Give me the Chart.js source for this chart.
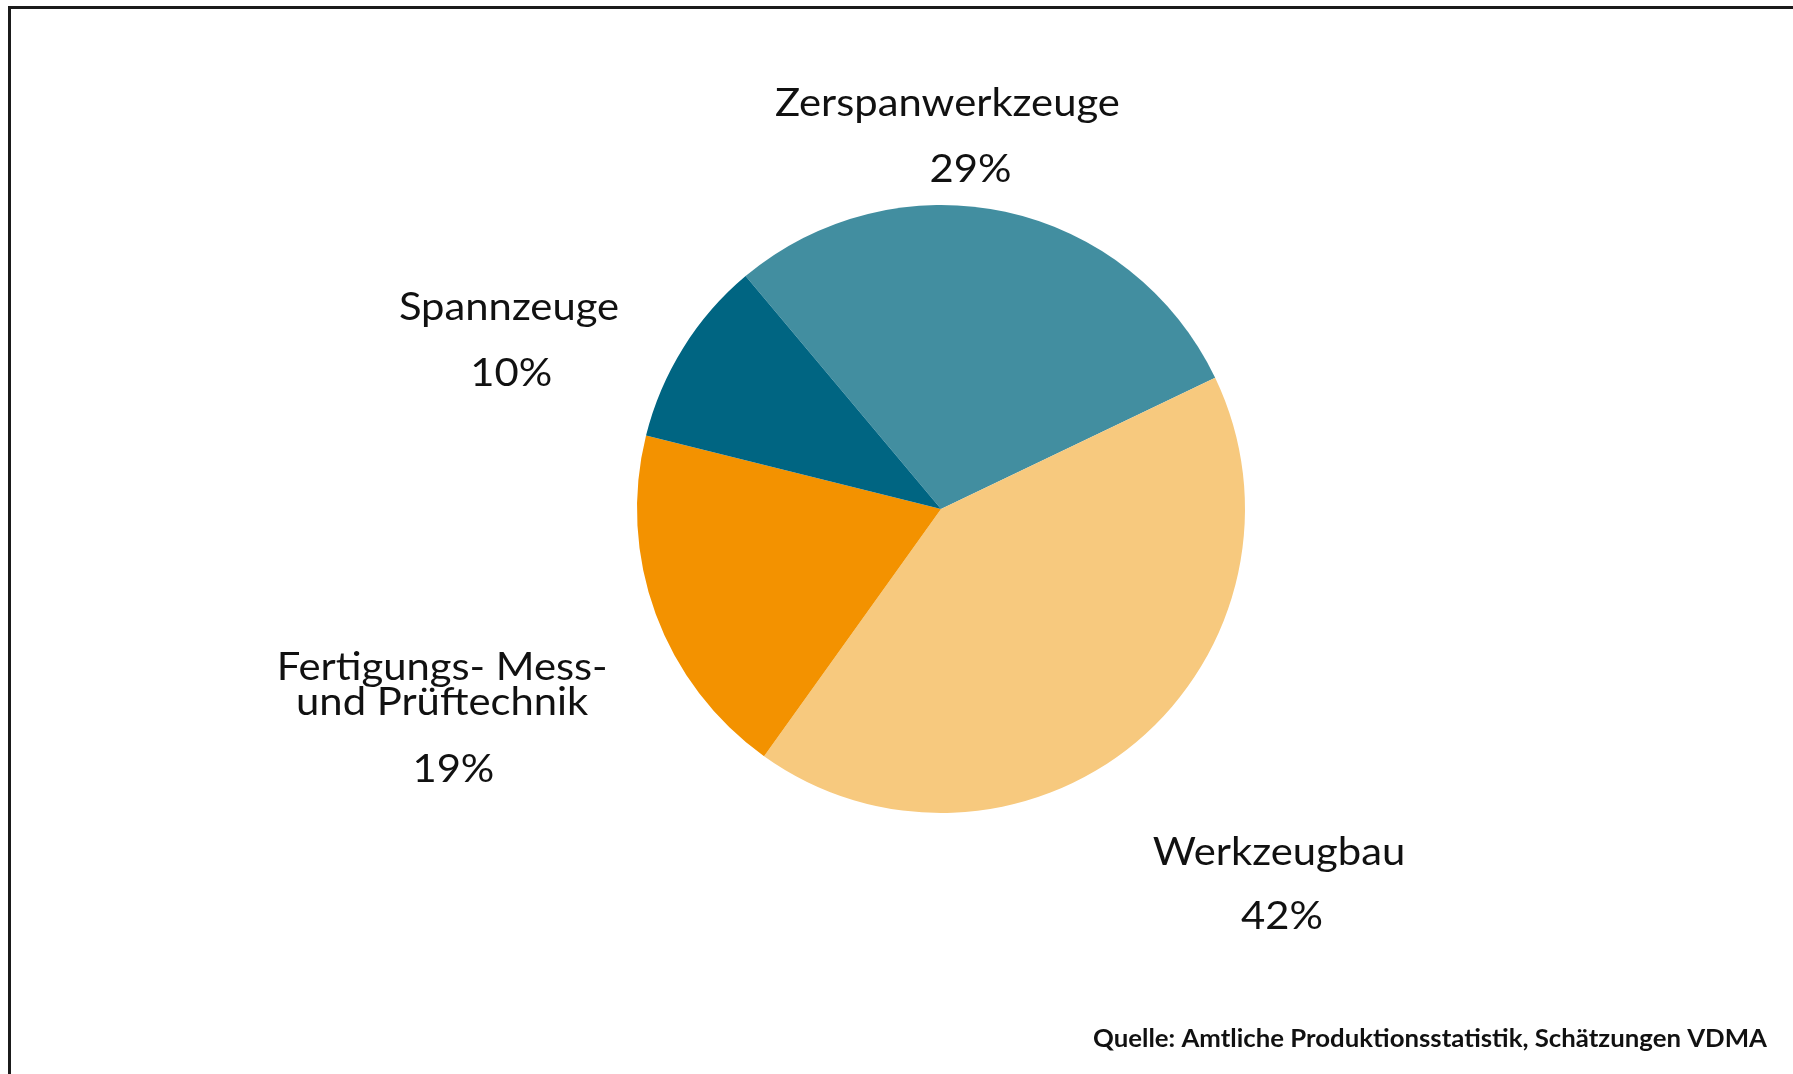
<!DOCTYPE html>
<html lang="de">
<head>
<meta charset="utf-8">
<title>Werkzeugindustrie</title>
<script src="https://cdn.jsdelivr.net/npm/chart.js@4/dist/chart.umd.min.js"></script>
<style>
    html, body { margin: 0; padding: 0; background: #fff; overflow: hidden; }
    #wrap { position: relative; width: 1793px; height: 1074px; }
    #rahmen { position: absolute; left: 8px; top: 6px; right: 0; bottom: 0;
              border-top: 3px solid #1b1b1b; border-left: 3px solid #1b1b1b; }
    #chart1 { position: absolute; left: 0; top: 0; }
</style>
</head>
<body>
<div id="wrap">
    <div id="rahmen"></div>
    <canvas id="chart1" width="1793" height="1074"></canvas>
</div>
<script>
// Daten
var labels = ['Zerspanwerkzeuge', 'Werkzeugbau', 'Fertigungs- Mess-\nund Prüftechnik', 'Spannzeuge'];
var anteile = [29, 42, 19, 10];
var farben = ['#428EA0', '#F7C97E', '#F39200', '#006582'];
var quelle = 'Quelle: Amtliche Produktionsstatistik, Schätzungen VDMA';

// Lage der Beschriftungen relativ zum Kreismittelpunkt (in Radien)
var labelLage = [
    { name: [0.021, -1.293], wert: [0.097, -1.076] },
    { name: [1.112, 1.171], wert: [1.122, 1.382] },
    { name: [-1.641, 0.563], wert: [-1.604, 0.898] },
    { name: [-1.421, -0.622], wert: [-1.414, -0.405] }
];

var schrift = '"Lato", "Open Sans", sans-serif';

// Plugin für Beschriftungen und Quelle
var beschriftung = {
    id: 'beschriftung',
    afterDatasetsDraw: function (chart) {
        var ctx = chart.ctx;
        var arcs = chart.getDatasetMeta(0).data;
        ctx.save();
        ctx.fillStyle = '#111';
        ctx.textAlign = 'center';
        ctx.textBaseline = 'alphabetic';
        ctx.font = '39px ' + schrift;
        // Breite an Vorlage anpassen
        var sx = 345 / ctx.measureText('Zerspanwerkzeuge').width;
        arcs.forEach(function (arc, i) {
            var p = arc.getProps(['x', 'y', 'outerRadius'], true);
            var r = p.outerRadius;
            var l = labelLage[i];
            var zeilen = labels[i].split('\n');
            zeilen.forEach(function (z, k) {
                ctx.save();
                ctx.translate(p.x + l.name[0] * r, p.y + l.name[1] * r + k * 35);
                ctx.scale(sx, 1);
                ctx.fillText(z, 0, 0);
                ctx.restore();
            });
            ctx.save();
            ctx.translate(p.x + l.wert[0] * r, p.y + l.wert[1] * r);
            ctx.scale(sx, 1);
            ctx.fillText(anteile[i] + '%', 0, 0);
            ctx.restore();
        });
        // Quelle unten rechts
        ctx.font = 'bold 24px ' + schrift;
        var qx = 674 / ctx.measureText(quelle).width;
        ctx.textAlign = 'right';
        ctx.translate(1767, 1047);
        ctx.scale(qx, 1);
        ctx.fillText(quelle, 0, 0);
        ctx.restore();
    }
};

document.addEventListener('DOMContentLoaded', function () {
    var ctx1 = document.getElementById('chart1').getContext('2d');
    var chart1 = new Chart(ctx1, {
        type: 'pie',
        data: {
            labels: labels,
            datasets: [{
                data: anteile,
                backgroundColor: farben,
                borderWidth: 0
            }]
        },
        options: {
            responsive: false,
            animation: false,
            rotation: -40,
            layout: {
                padding: { left: 637, right: 548, top: 205, bottom: 261 }
            },
            plugins: {
                legend: { display: false },
                tooltip: { enabled: false }
            }
        },
        plugins: [beschriftung]
    });
});
</script>
</body>
</html>
